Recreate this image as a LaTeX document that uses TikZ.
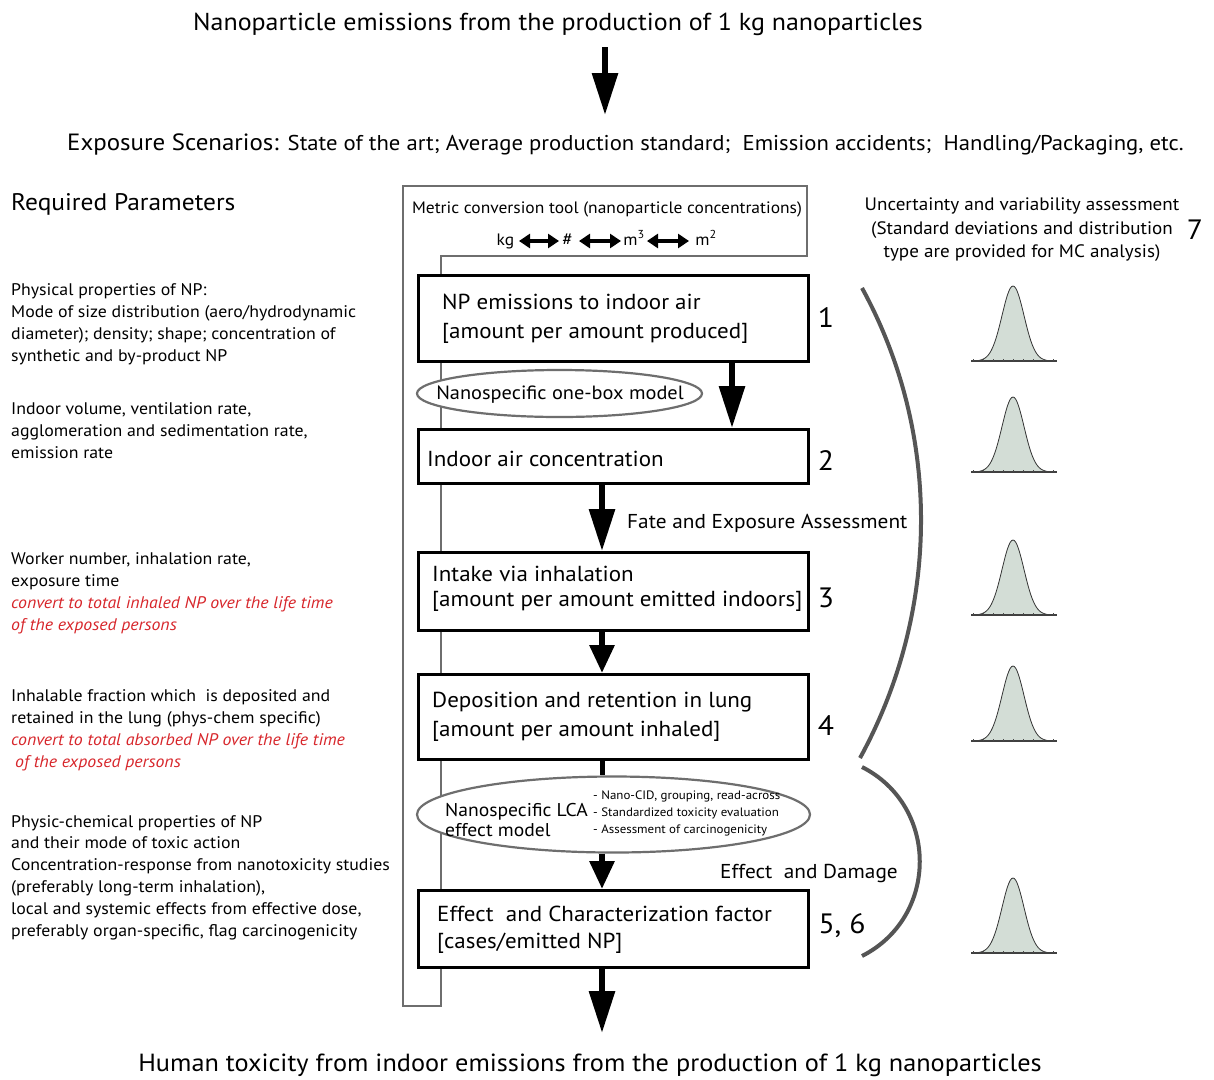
\documentclass[tikz,border=0pt]{standalone}
\usepackage{fontspec}
\setmainfont{PT Sans}[FakeStretch=1.06]
\usetikzlibrary{arrows.meta,shapes.geometric}
\definecolor{npred}{HTML}{D7262B}
\definecolor{bellfill}{HTML}{D3DDD6}
\definecolor{framec}{HTML}{6E6E6E}
\definecolor{bracec}{HTML}{555555}
\begin{document}
\begin{tikzpicture}[x=1pt,y=-1pt,
  bigtxt/.style={font=\fontsize{24.5}{29}\selectfont, inner sep=0pt},
  boxtxt/.style={font=\fontsize{21.7}{28.5}\selectfont, align=left, inner sep=0pt, anchor=west},
  lefttxt/.style={font=\fontsize{16.8}{22}\selectfont, align=left, inner sep=0pt, anchor=north west},
  labtxt/.style={font=\fontsize{20.1}{24}\selectfont, inner sep=0pt},
  numtxt/.style={font=\fontsize{28}{30}\selectfont, inner sep=0pt},
  unittxt/.style={font=\fontsize{16.5}{20}\selectfont, inner sep=0pt},
  stepbox/.style={draw=black, line width=2.8pt, fill=white, anchor=north west, inner sep=0pt, minimum width=390pt},
  modelell/.style={ellipse, draw=framec, line width=2.2pt, fill=white, inner sep=0pt},
  bigarrow/.style={line width=6pt, -{Triangle[length=42pt,width=25pt]}},
  shortarrow/.style={line width=6pt, -{Triangle[length=28pt,width=24pt]}},
  unitarrow/.style={line width=3.6pt, {Triangle[length=11pt,width=14pt]}-{Triangle[length=11pt,width=14pt]}},
  bracecurve/.style={draw=bracec, line width=4pt},
]
\useasboundingbox (0,0) rectangle (1214,1079);

% titles
\node[bigtxt] (title) at (558,24) {Nanoparticle emissions from the production of 1 kg nanoparticles};
\coordinate (a0s) at (605,47);
\coordinate (a0e) at (605,115);
\draw[bigarrow] (a0s) -- (a0e);
\node[anchor=west, inner sep=0pt] (expo) at (67,144) {\fontsize{23.5}{28}\selectfont Exposure Scenarios: \fontsize{21.4}{25}\selectfont State of the art; Average production standard;\ \ Emission accidents;\ \ Handling/Packaging, etc.};
\node[bigtxt, font=\fontsize{24}{29}\selectfont, anchor=west] (reqpar) at (11,204) {Required Parameters};

% metric conversion frame
\draw[draw=framec, line width=2.4pt] (403,186) -- (807,186) -- (807,256) -- (441,256) -- (441,1006) -- (403,1006) -- cycle;
\node[unittxt] (metric) at (607,209) {Metric conversion tool (nanoparticle concentrations)};
\node[unittxt] (ukg) at (505.5,241) {kg};
\node[unittxt, font=\fontsize{18}{20}\selectfont] (uhash) at (567.5,240) {\#};
\node[unittxt] (um3) at (634,238) {m\textsuperscript{3}};
\node[unittxt] (um2) at (706,238) {m\textsuperscript{2}};
\draw[unitarrow] (519,241) -- (559,241);
\draw[unitarrow] (579,241) -- (621,241);
\draw[unitarrow] (647,241) -- (689,241);

% boxes
\node[stepbox, minimum height=86pt] (b1) at (417,274) {};
\node[stepbox, minimum height=54pt] (b2) at (417,428) {};
\node[stepbox, minimum height=78pt] (b3) at (417,551) {};
\node[stepbox, minimum height=85pt] (b4) at (417,673) {};
\node[stepbox, minimum height=77pt] (b5) at (417,889) {};

\node[boxtxt] (t1) at (442,319) {NP emissions to indoor air\\{[}amount per amount produced{]}};
\node[boxtxt] (t2) at (427,459) {Indoor air concentration};
\node[boxtxt, font=\fontsize{21.7}{25.5}\selectfont] (t3) at (432,589) {Intake via inhalation\\{[}amount per amount emitted indoors{]}};
\node[boxtxt] (t4) at (432,717) {Deposition and retention in lung\\{[}amount per amount inhaled{]}};
\node[boxtxt, font=\fontsize{21.7}{27}\selectfont] (t5) at (437,929.5) {Effect\ \ and Characterization factor\\{[}cases/emitted NP{]}};

\node[numtxt] (n1) at (826,318) {1};
\node[numtxt] (n2) at (826,461) {2};
\node[numtxt] (n3) at (826,598) {3};
\node[numtxt] (n4) at (826,726) {4};
\node[numtxt] (n56) at (842,926) {5, 6};
\node[numtxt] (n7) at (1195,230) {7};

% ellipses
\node[modelell, minimum width=285pt, minimum height=47pt] (e1) at (559.5,393.5) {};
\node[labtxt, font=\fontsize{19.2}{24}\selectfont] (e1t) at (560,395) {Nanospecific one-box model};
\node[modelell, minimum width=393pt, minimum height=76pt] (e2) at (613.5,814.5) {};
\node[labtxt, align=left, anchor=west, font=\fontsize{18.5}{20}\selectfont] (e2t) at (445,820) {Nanospecific LCA\\effect model};
\node[align=left, anchor=west, inner sep=0pt, font=\fontsize{12.2}{17}\selectfont] (e2s) at (593,813.5) {- Nano-CID, grouping, read-across\\- Standardized toxicity evaluation\\- Assessment of carcinogenicity};

% connectors
\draw[bigarrow] (b1.south -| 732,0) -- (b2.north -| 732,0);
\draw[bigarrow] (b2.south -| 602,0) -- (b3.north -| 602,0);
\draw[shortarrow] (b3.south -| 602,0) -- (b4.north -| 602,0);
\draw[line width=5pt] (b4.south -| 602,0) -- (e2.north -| 602,0);
\draw[shortarrow] (e2.south -| 602,0) -- (b5.north -| 602,0);
\coordinate (outp) at (602,1033);
\draw[bigarrow] (b5.south -| 602,0) -- (outp);

\node[labtxt, anchor=west] (fea) at (627,523) {Fate and Exposure Assessment};
\node[labtxt, anchor=west] (ead) at (720,873) {Effect\ \ and Damage};

\node[bigtxt, font=\fontsize{24.8}{29}\selectfont] (bottom) at (590,1065) {Human toxicity from indoor emissions from the production of 1 kg nanoparticles};

% braces
\draw[bracecurve] (862,288) .. controls (942,434) and (940,612) .. (860,758);
\draw[bracecurve] (862,767) .. controls (939,806) and (939,917) .. (862,956);

% uncertainty text
\node[align=center, inner sep=0pt, font=\fontsize{18}{23.5}\selectfont] (unc) at (1022,230) {Uncertainty and variability assessment\\(Standard deviations and distribution\\type are provided for MC analysis)};

% bell curves
\foreach \b in {361,472,615,741,953} {
  \fill[bellfill] plot[domain=-41:41, samples=61, smooth] ({1013+\x},{\b-75*exp(-(\x*\x)/242)}) -- cycle;
  \draw[line width=0.8pt, black!80] plot[domain=-41:41, samples=61, smooth] ({1013+\x},{\b-75*exp(-(\x*\x)/242)});
  \draw[line width=1.2pt, black!75] (971,\b) -- (1057,\b);
  \foreach \t in {-40,-30,...,40} { \draw[line width=0.6pt, black!70] (1013+\t,\b) -- ++(0,-2.5); }
}

% left parameters
\node[lefttxt] (p1) at (11,283) {Physical properties of NP:\\Mode of size distribution (aero/hydrodynamic\\diameter); density; shape; concentration of\\synthetic and by-product NP};
\node[lefttxt] (p2) at (11,402) {Indoor volume, ventilation rate,\\agglomeration and sedimentation rate,\\emission rate};
\node[lefttxt] (p3) at (11,552) {Worker number, inhalation rate,\\exposure time\\\textcolor{npred}{\itshape convert to total inhaled NP over the life time}\\\textcolor{npred}{\itshape of the exposed persons}};
\node[lefttxt] (p4) at (11,689) {Inhalable fraction which\ \ is deposited and\\retained in the lung (phys-chem specific)\\\textcolor{npred}{\itshape convert to total absorbed NP over the life time}\\\hspace*{4pt}\textcolor{npred}{\itshape of the exposed persons}};
\node[lefttxt, font=\fontsize{16.8}{21.8}\selectfont] (p5) at (11,815) {Physic-chemical properties of NP\\and their mode of toxic action\\Concentration-response from nanotoxicity studies\\(preferably long-term inhalation),\\local and systemic effects from effective dose,\\preferably organ-specific, flag carcinogenicity};
\end{tikzpicture}
\end{document}
